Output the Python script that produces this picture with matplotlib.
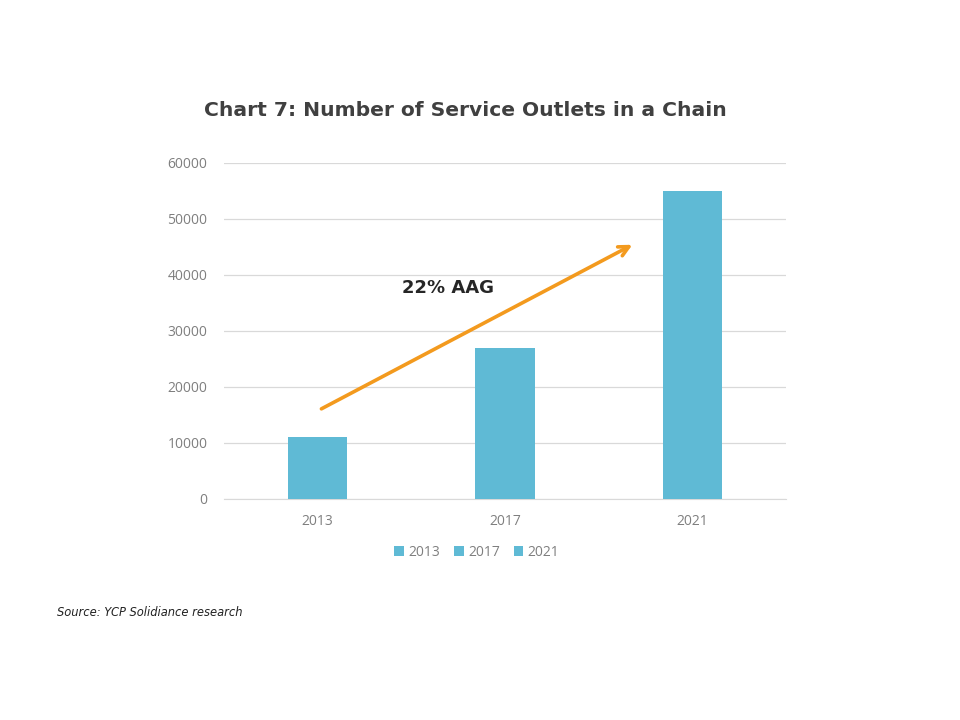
import matplotlib
matplotlib.use("Agg")

import matplotlib.pyplot as plt

years = ["2013", "2017", "2021"]
outlets = [11000, 27000, 55000]
yticks = [0, 10000, 20000, 30000, 40000, 50000, 60000]

C_BAR = "#5FBAD5"
C_ARROW = "#F39A1E"
C_GRID = "#D9D9D9"
C_TICK = "#7F7F7F"
C_TITLE = "#404040"

fig = plt.figure(figsize=(9.6, 7.2), dpi=100, facecolor="white")
ax = fig.add_axes([224 / 960, 1 - 499 / 720, (786 - 224) / 960, (499 - 163) / 720])

x = range(len(years))
for i, (yr, val) in enumerate(zip(years, outlets)):
    ax.bar(i, val, width=0.315, color=C_BAR, label=yr, zorder=3)

ax.set_xlim(-0.5, len(years) - 0.5)
ax.set_ylim(0, 60000)
ax.set_yticks(yticks)
ax.set_yticklabels([str(t) for t in yticks])
ax.set_xticks(list(x))
ax.set_xticklabels(years)
ax.grid(True, axis="y", color=C_GRID, linewidth=0.9, zorder=0)
for s in ["top", "right", "left"]:
    ax.spines[s].set_visible(False)
ax.spines["bottom"].set_color(C_GRID)
ax.tick_params(axis="both", length=0, colors=C_TICK, labelsize=10)
ax.tick_params(axis="y", pad=12)
ax.tick_params(axis="x", pad=11)
for lab in ax.get_xticklabels() + ax.get_yticklabels():
    lab.set_family("Open Sans")

# growth arrow
ax.annotate("", xy=(1.68, 45400), xytext=(0.02, 16100),
            arrowprops=dict(arrowstyle="->", color=C_ARROW, lw=2.6,
                            mutation_scale=18, shrinkA=0, shrinkB=0),
            zorder=5)
ax.text(0.45, 37600, "22% AAG", fontsize=13, fontweight="bold",
        color="#262626", family="DejaVu Sans", va="center", ha="left")

fig.text(465 / 960, 1 - 110 / 720, "Chart 7: Number of Service Outlets in a Chain",
         ha="center", va="center", fontsize=14.6, fontweight="bold",
         color=C_TITLE, family="DejaVu Sans")

leg = ax.legend(loc="upper center", bbox_to_anchor=(0.45, -0.1), ncol=3,
                frameon=False, handlelength=0.7, handleheight=0.7,
                handletextpad=0.3, columnspacing=1.0,
                prop={"family": "Open Sans", "size": 10})
for t in leg.get_texts():
    t.set_color(C_TICK)

fig.text(57 / 960, 1 - 613 / 720, "Source: YCP Solidiance research",
         ha="left", va="center", fontsize=8.3, style="italic", color="#222222",
         family="DejaVu Sans")

fig.savefig("out.png", dpi=100, facecolor="white")
